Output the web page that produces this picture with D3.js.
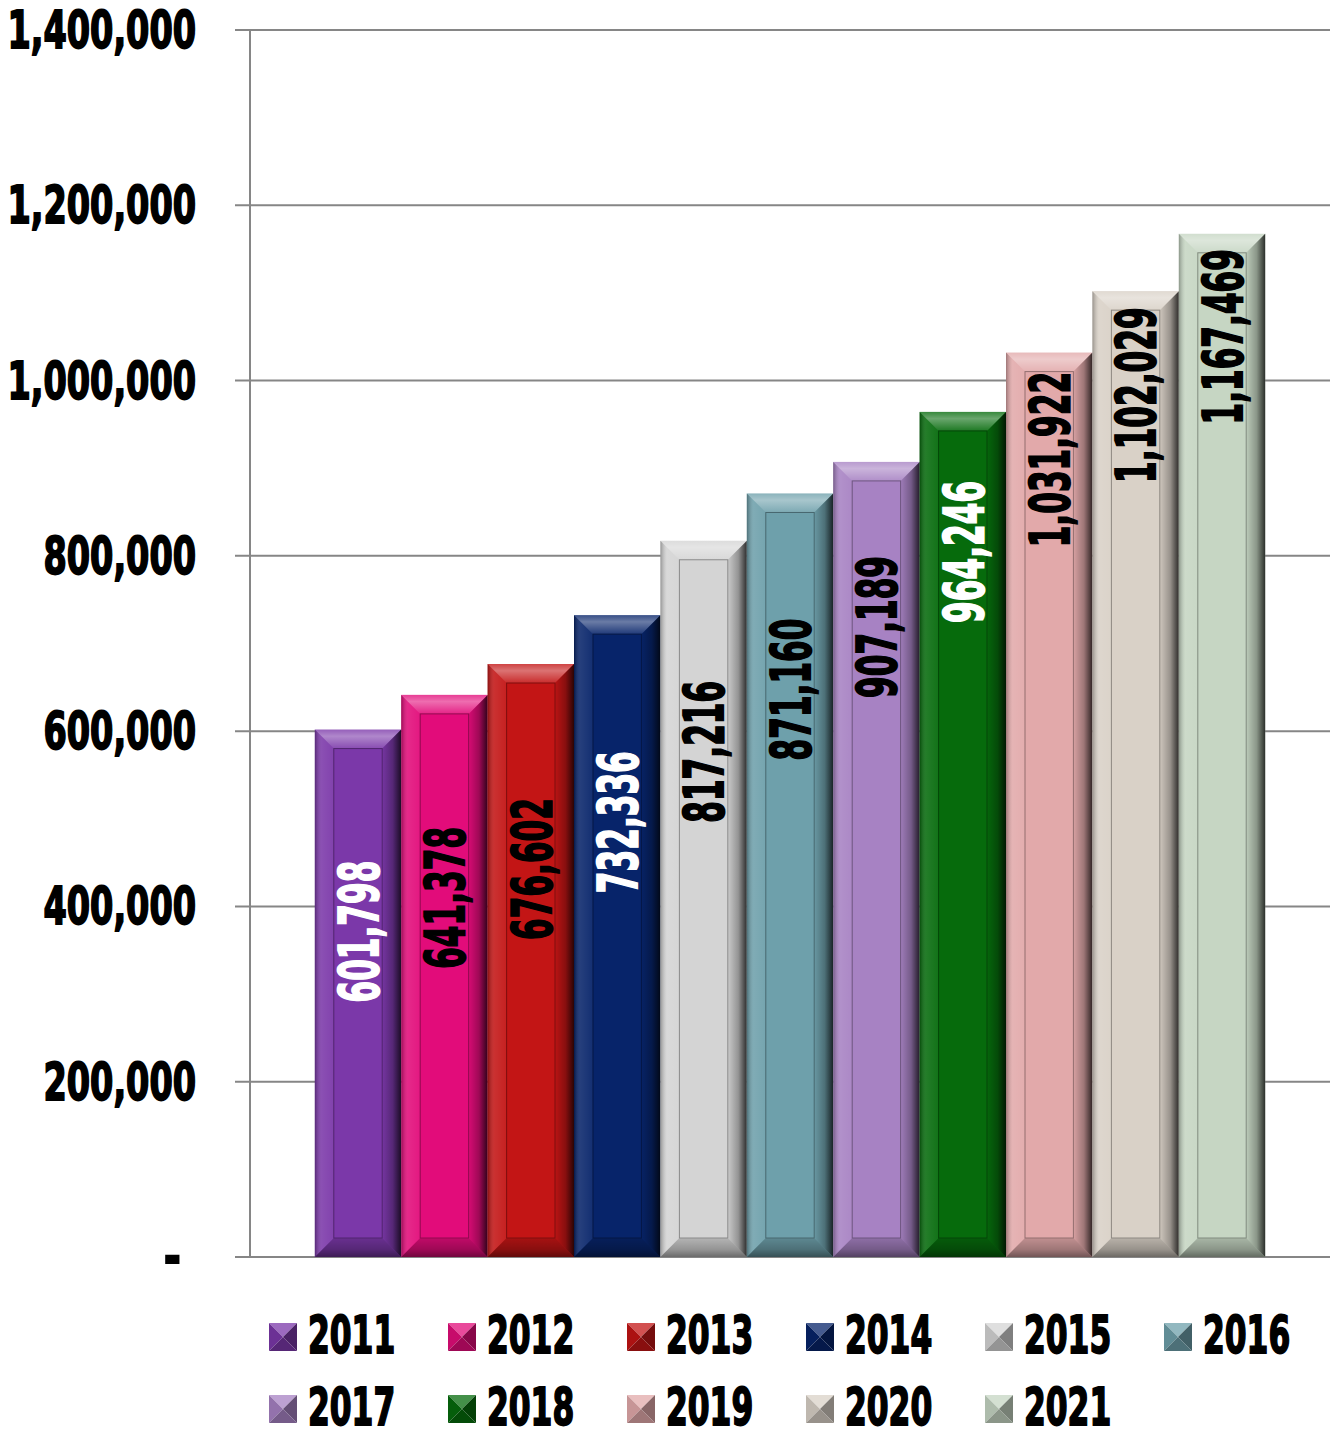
<!DOCTYPE html>
<html>
<head>
<meta charset="utf-8">
<script src="https://cdn.jsdelivr.net/npm/d3@7"></script>
<style>
  html, body { margin: 0; padding: 0; background: #fff; }
  svg { display: block; }
  .heavy { font-family: "DejaVu Sans Condensed", "DejaVu Sans", sans-serif; font-weight: bold; }
</style>
</head>
<body>
<svg id="chart" width="1337" height="1431"></svg>
<script>
// Yearly totals, 2011–2021
const years = ["2011", "2012", "2013", "2014", "2015", "2016", "2017", "2018", "2019", "2020", "2021"];
const values = [601798, 641378, 676602, 732336, 817216, 871160, 907189, 964246, 1031922, 1102029, 1167469];
const barColors = ["#7b38a9", "#e20c7a", "#c31515", "#07246a", "#d4d4d4", "#6ea0ab",
                   "#a782c3", "#066b0c", "#e2a9aa", "#d9d1c7", "#c6d6c3"];
const labelColors = ["#fff", "#000", "#000", "#fff", "#000", "#000", "#000", "#fff", "#000", "#000", "#000"];
const yTicks = [0, 200000, 400000, 600000, 800000, 1000000, 1200000, 1400000];

// Layout
const plot = { left: 250, right: 1330, top: 30, bottom: 1257 };
const bevel = 19;
// how far below each bar top the value label is centred (px)
const labelDrop = [202, 203, 205, 207, 211, 196, 165, 140, 107, 104, 103];
// horizontal squeeze giving the bold face a condensed, poster-like look
const squeeze = { tick: 0.73, value: 0.63, legend: 0.67 };

const svg = d3.select("#chart");
const defs = svg.append("defs");

const x = d3.scaleBand().domain(years).range([plot.left, plot.right]).paddingInner(0).paddingOuter(0.75);
const y = d3.scaleLinear().domain([0, 1400000]).range([plot.bottom, plot.top]);

// Shading overlays for the bevelled faces
function grad(id, x1, y1, x2, y2, stops) {
  const g = defs.append("linearGradient").attr("id", id)
    .attr("x1", x1).attr("y1", y1).attr("x2", x2).attr("y2", y2);
  stops.forEach(s => g.append("stop").attr("offset", s[0]).attr("stop-color", s[1]).attr("stop-opacity", s[2]));
}
grad("shTop", 0, 0, 0, 1, [[0, "#fff", 0.2], [0.35, "#fff", 0.4], [1, "#fff", 0.1]]);
grad("shLeft", 0, 0, 1, 0, [[0, "#000", 0.3], [0.35, "#fff", 0.12], [1, "#fff", 0.05]]);
grad("shRight", 0, 0, 1, 0, [[0, "#000", 0.05], [0.55, "#000", 0.3], [1, "#000", 0.78]]);
grad("shBottom", 0, 0, 0, 1, [[0, "#000", 0.15], [0.6, "#000", 0.3], [1, "#000", 0.5]]);

// Grid lines and tick labels
const grid = svg.append("g");
grid.selectAll("line.grid").data(yTicks).join("line")
  .attr("x1", plot.left - 15).attr("x2", plot.right)
  .attr("y1", d => y(d)).attr("y2", d => y(d))
  .attr("stroke", "#868686").attr("stroke-width", 2);
grid.append("line")
  .attr("x1", plot.left).attr("x2", plot.left)
  .attr("y1", y(1400000)).attr("y2", y(0))
  .attr("stroke", "#868686").attr("stroke-width", 2);

const tickFmt = d3.format(",");
grid.selectAll("text.tick").data(yTicks).join("text")
  .attr("class", "heavy")
  .attr("text-anchor", "end")
  .attr("transform", d => d === 0
      ? `translate(181,${y(d) + 17}) scale(0.9,1)`
      : `translate(196,${y(d) + 18}) scale(${squeeze.tick},1)`)
  .attr("font-size", 51)
  .attr("fill", "#000").attr("stroke", "#000").attr("stroke-width", 1.8)
  .text(d => d === 0 ? "-" : tickFmt(d));

// Bars
const bars = svg.append("g").selectAll("g.bar").data(years).join("g").attr("class", "bar");
bars.each(function (yr, i) {
  const g = d3.select(this);
  const x0 = x(yr), x1 = x0 + x.bandwidth();
  const yt = y(values[i]), yb = y(0);
  const b = bevel;
  const pts = a => a.map(p => p.join(",")).join(" ");
  g.append("rect").attr("x", x0).attr("y", yt).attr("width", x1 - x0).attr("height", yb - yt)
    .attr("fill", barColors[i]);
  g.append("polygon").attr("points", pts([[x0, yt], [x1, yt], [x1 - b, yt + b], [x0 + b, yt + b]])).attr("fill", "url(#shTop)");
  g.append("polygon").attr("points", pts([[x0, yt], [x0 + b, yt + b], [x0 + b, yb - b], [x0, yb]])).attr("fill", "url(#shLeft)");
  g.append("polygon").attr("points", pts([[x1, yt], [x1, yb], [x1 - b, yb - b], [x1 - b, yt + b]])).attr("fill", "url(#shRight)");
  g.append("polygon").attr("points", pts([[x0, yb], [x0 + b, yb - b], [x1 - b, yb - b], [x1, yb]])).attr("fill", "url(#shBottom)");
  g.append("rect").attr("x", x0 + b).attr("y", yt + b).attr("width", x1 - x0 - 2 * b).attr("height", yb - yt - 2 * b)
    .attr("fill", "none").attr("stroke", d3.interpolateRgb(barColors[i], "#000")(0.35)).attr("stroke-width", 1);
  // value label, reading upward
  g.append("text")
    .attr("class", "heavy")
    .attr("transform", `translate(${x0 + x.bandwidth() / 2},${yt + labelDrop[i]}) rotate(-90) scale(${squeeze.value},1)`)
    .attr("text-anchor", "middle").attr("dy", "0.36em")
    .attr("font-size", 55)
    .attr("fill", labelColors[i]).attr("stroke", labelColors[i]).attr("stroke-width", 1.8)
    .text(d3.format(",")(values[i]));
});

// Legend
const legend = svg.append("g");
const colW = 179, rowH = 72, lx0 = 269, ly0 = 1323, sq = 28;
years.forEach((yr, i) => {
  const cx = lx0 + (i % 6) * colW, cy = ly0 + Math.floor(i / 6) * rowH;
  const g = legend.append("g").attr("transform", `translate(${cx},${cy})`);
  const c = barColors[i], m = sq / 2;
  const tri = (a, col) => g.append("polygon").attr("points", a.map(p => p.join(",")).join(" ")).attr("fill", col);
  tri([[0, 0], [sq, 0], [m, m]], d3.interpolateRgb(c, "#fff")(0.25));
  tri([[0, 0], [m, m], [0, sq]], d3.interpolateRgb(c, "#000")(0.12));
  tri([[sq, 0], [sq, sq], [m, m]], d3.interpolateRgb(c, "#000")(0.4));
  tri([[0, sq], [m, m], [sq, sq]], d3.interpolateRgb(c, "#000")(0.3));
  g.append("text").attr("class", "heavy")
    .attr("transform", `translate(39,30) scale(${squeeze.legend},1)`)
    .attr("font-size", 52)
    .attr("fill", "#000").attr("stroke", "#000").attr("stroke-width", 1.8)
    .text(yr);
});
</script>
</body>
</html>
